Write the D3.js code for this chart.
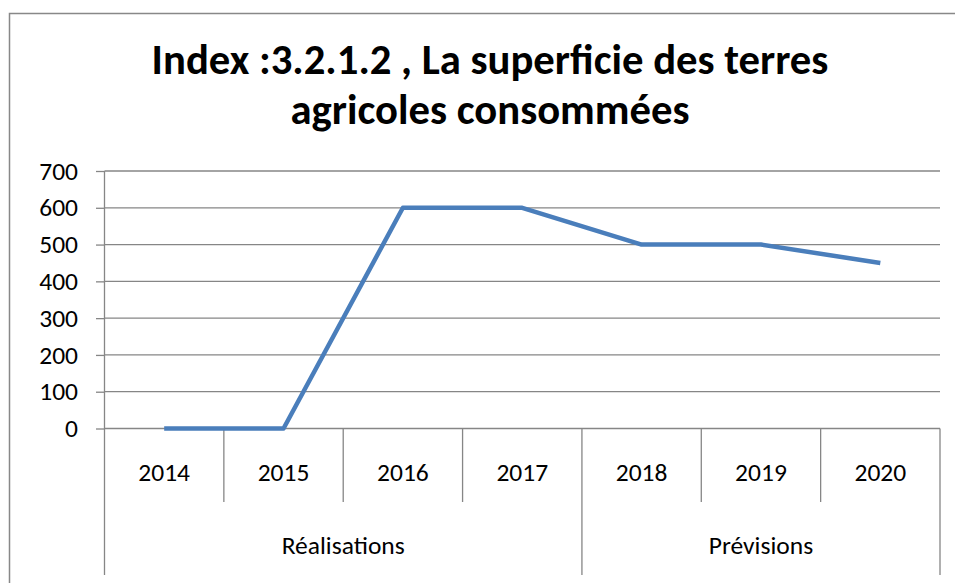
<!DOCTYPE html>
<html>
<head>
<meta charset="utf-8">
<script src="https://cdn.jsdelivr.net/npm/d3@7"></script>
<style>
  body { margin: 0; background: #fff; }
  svg text { font-family: Carlito, Calibri, "Open Sans", sans-serif; fill: #000; }
</style>
</head>
<body>
<div id="container"></div>
<script>
// data
let years = ["2014", "2015", "2016", "2017", "2018", "2019", "2020"];
let values = [0, 0, 600, 600, 500, 500, 450];
let groups = [
  {name: "Réalisations", from: "2014", to: "2017"},
  {name: "Prévisions", from: "2018", to: "2020"}
];
let yTicks = [0, 100, 200, 300, 400, 500, 600, 700];
let titleLines = ["Index :3.2.1.2 , La superficie des terres", "agricoles consommées"];

let gridColor = "#868686";
let lineColor = "#4a7ebb";
let labelSize = "25.5px";
let W = 955, H = 583;
let plot = {left: 104.5, right: 940, top: 171, bottom: 428.5};

let svg = d3.select("div#container").append("svg")
  .attr("width", W).attr("height", H);

// outer chart frame (right/bottom edges run off the picture)
svg.append("rect")
  .attr("x", 9.5).attr("y", 13.5)
  .attr("width", 980).attr("height", 620)
  .attr("fill", "#fff").attr("stroke", "#888").attr("stroke-width", 1.5);

let xScale = d3.scaleBand().domain(years).range([plot.left, plot.right]);
let yScale = d3.scaleLinear().domain([0, 700]).range([plot.bottom, plot.top]);

// title, sized to the width it has in the picture
let title = svg.append("text")
  .attr("text-anchor", "middle")
  .style("font-weight", "bold");
titleLines.forEach(function(t, i) {
  title.append("tspan").attr("x", 490).attr("y", 74 + i * 50).text(t);
});
let fs = 40;
title.style("font-size", fs + "px");
let firstLen = title.select("tspan").node().getComputedTextLength();
fs = Math.min(46, fs * 677 / firstLen);
title.style("font-size", fs + "px");

// gridlines
svg.append("g").selectAll("line").data(yTicks.filter(d => d > 0)).join("line")
  .attr("x1", plot.left).attr("x2", plot.right)
  .attr("y1", d => yScale(d)).attr("y2", d => yScale(d))
  .attr("stroke", gridColor).attr("stroke-width", 1.3);

// y axis
let yAxis = svg.append("g")
  .attr("transform", "translate(" + plot.left + ",0)")
  .call(d3.axisLeft(yScale).tickValues(yTicks).tickSize(8.5).tickPadding(18));
yAxis.select(".domain").remove();
yAxis.selectAll(".tick line").attr("stroke", gridColor).attr("stroke-width", 1.3);
yAxis.attr("font-family", null).attr("font-size", null);
yAxis.selectAll(".tick text").style("font-size", labelSize);

// vertical axis line, down to the group row
svg.append("line")
  .attr("x1", plot.left).attr("x2", plot.left)
  .attr("y1", plot.top).attr("y2", 575)
  .attr("stroke", gridColor).attr("stroke-width", 1.3);

// x axis baseline
svg.append("line")
  .attr("x1", plot.left).attr("x2", plot.right)
  .attr("y1", yScale(0)).attr("y2", yScale(0))
  .attr("stroke", gridColor).attr("stroke-width", 1.3);

// category separators
let seps = years.slice(1).map(d => xScale(d)).concat([plot.right]);
let groupEdges = groups.map(g => xScale(g.to) + xScale.bandwidth());
svg.append("g").selectAll("line").data(seps).join("line")
  .attr("x1", d => d).attr("x2", d => d)
  .attr("y1", yScale(0))
  .attr("y2", d => groupEdges.some(e => Math.abs(e - d) < 0.5) ? 575 : 502)
  .attr("stroke", gridColor).attr("stroke-width", 1.3);

// year labels
svg.append("g").selectAll("text").data(years).join("text")
  .attr("x", d => xScale(d) + xScale.bandwidth() / 2)
  .attr("y", 472)
  .attr("dy", "0.35em")
  .attr("text-anchor", "middle")
  .style("font-size", labelSize)
  .text(d => d);

// group labels
svg.append("g").selectAll("text").data(groups).join("text")
  .attr("x", g => (xScale(g.from) + xScale(g.to) + xScale.bandwidth()) / 2)
  .attr("y", 545)
  .attr("dy", "0.35em")
  .attr("text-anchor", "middle")
  .style("font-size", labelSize)
  .text(g => g.name);

// the series
let line = d3.line()
  .x((d, i) => xScale(years[i]) + xScale.bandwidth() / 2)
  .y(d => yScale(d));
svg.append("path")
  .datum(values)
  .attr("d", line)
  .attr("fill", "none")
  .attr("stroke", lineColor)
  .attr("stroke-width", 4.5)
  .attr("stroke-linejoin", "round");
</script>
</body>
</html>
